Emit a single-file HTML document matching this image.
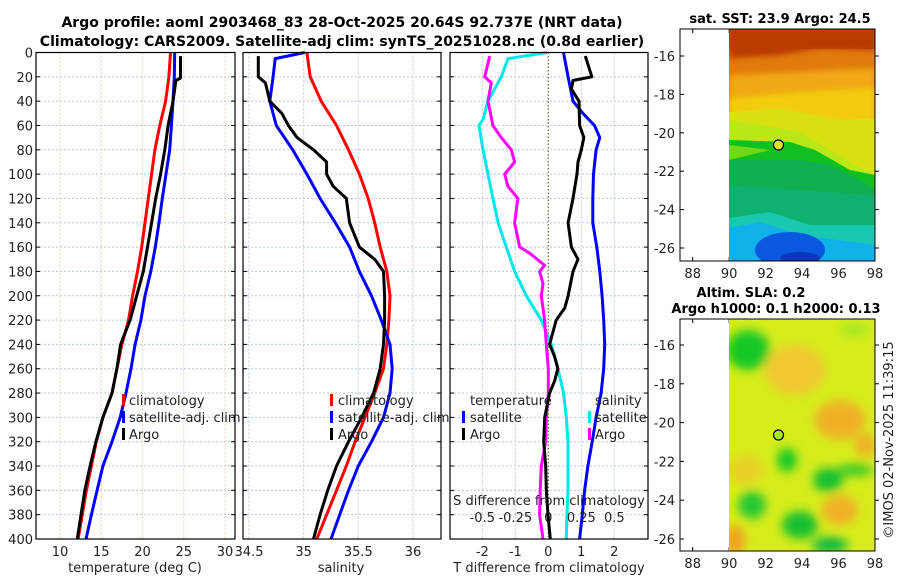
<!DOCTYPE html>
<html><head><meta charset="utf-8"><style>
body{margin:0;background:#fff}
svg{display:block;font-family:"DejaVu Sans","Liberation Sans",sans-serif}
</style></head><body>
<svg id="c" width="900" height="580" viewBox="0 0 900 580" xmlns="http://www.w3.org/2000/svg">
<defs>
<filter id="bl" x="-50%" y="-50%" width="200%" height="200%"><feGaussianBlur stdDeviation="5"/></filter>
<filter id="bl2" x="-50%" y="-50%" width="200%" height="200%"><feGaussianBlur stdDeviation="3"/></filter>
<clipPath id="cm1"><rect x="729" y="29" width="146" height="232"/></clipPath>
<clipPath id="cm2"><rect x="729" y="319" width="146" height="232"/></clipPath>
</defs>
<text x="342" y="27" text-anchor="middle" font-weight="bold" font-size="14">Argo profile: aoml 2903468_83 28-Oct-2025 20.64S 92.737E (NRT data)</text>
<text x="342" y="46" text-anchor="middle" font-weight="bold" font-size="14">Climatology: CARS2009. Satellite-adj clim: synTS_20251028.nc (0.8d earlier)</text>
<g id="g"></g>
<g id="maps">
<g clip-path="url(#cm1)">
<rect x="729" y="29" width="146" height="232" fill="#e07a0c"/>
<rect x="729" y="29" width="146" height="20" fill="#c04a02"/>
<polygon points="729,29 875,29 875,50 820,48 780,55 729,58" fill="#b83a00" filter="url(#bl2)"/>
<polygon points="729,75 875,68 875,120 729,110" fill="#f0a812" filter="url(#bl2)"/>
<polygon points="729,98 800,92 875,88 875,140 729,130" fill="#f2cc10" filter="url(#bl2)"/>
<polygon points="729,112 780,108 840,120 875,118 875,220 729,220" fill="#d8e010"/>
<polygon points="729,120 800,132 830,150 860,168 875,175 875,261 729,261" fill="#b8e818"/>
<polygon points="729,140 790,142 815,150 850,170 875,175 875,261 729,261" fill="#10c020"/>
<polygon points="729,145 770,150 729,160" fill="#70d818"/>
<polygon points="729,160 800,160 830,165 860,180 875,190 875,261 729,261" fill="#10b050"/>
<polygon points="729,185 875,195 875,261 729,261" fill="#10b070"/>
<polygon points="729,218 770,212 810,225 875,225 875,261 729,261" fill="#18c8b0"/>
<polygon points="729,228 760,222 800,235 875,245 875,261 729,261" fill="#10b0e8"/>
<ellipse cx="790" cy="250" rx="35" ry="18" fill="#0a58e0"/>
<ellipse cx="800" cy="258" rx="20" ry="6" fill="#0838b8"/>
</g>
<rect x="680" y="29" width="195" height="232" fill="none" stroke="#000" stroke-width="1"/>
<circle cx="778.5" cy="145" r="5" fill="#d8e818" stroke="#000" stroke-width="1.2"/>
<text x="780" y="23" text-anchor="middle" font-weight="bold" font-size="13">sat. SST: 23.9 Argo: 24.5</text>
<g clip-path="url(#cm2)">
<rect x="729" y="319" width="146" height="232" fill="#d6ec1c"/>
<g filter="url(#bl)">
<ellipse cx="795" cy="370" rx="30" ry="25" fill="#f0c830"/>
<ellipse cx="840" cy="420" rx="25" ry="20" fill="#f0b028"/>
<ellipse cx="865" cy="445" rx="10" ry="12" fill="#f0b028"/>
<ellipse cx="840" cy="510" rx="18" ry="15" fill="#f0b028"/>
<ellipse cx="745" cy="470" rx="18" ry="15" fill="#e8d028"/>
<ellipse cx="735" cy="540" rx="10" ry="15" fill="#f0a020"/>
<ellipse cx="748" cy="350" rx="22" ry="20" fill="#18c828"/>
<ellipse cx="787" cy="460" rx="10" ry="12" fill="#18c828"/>
<ellipse cx="828" cy="480" rx="15" ry="12" fill="#18c030"/>
<ellipse cx="855" cy="470" rx="18" ry="6" fill="#30c828"/>
<ellipse cx="752" cy="505" rx="14" ry="14" fill="#28c830"/>
<ellipse cx="800" cy="525" rx="18" ry="14" fill="#18c030"/>
<ellipse cx="830" cy="545" rx="18" ry="8" fill="#10b840"/>
<ellipse cx="855" cy="330" rx="15" ry="6" fill="#a0e820"/>
</g>
</g>
<rect x="680" y="319" width="195" height="232" fill="none" stroke="#000" stroke-width="1"/>
<circle cx="778.5" cy="435" r="5" fill="#a8e818" stroke="#000" stroke-width="1.2"/>
<text x="751" y="297" text-anchor="middle" font-weight="bold" font-size="13">Altim. SLA: 0.2</text>
<text x="776" y="313" text-anchor="middle" font-weight="bold" font-size="13">Argo h1000: 0.1 h2000: 0.13</text>
<text transform="translate(893,440) rotate(-90)" text-anchor="middle" font-size="13" fill="#222">©IMOS 02-Nov-2025 11:39:15</text>
</g>
</svg>
<script>
const depthsT = [0,20,40,60,80,100,120,140,160,180,200,220,240,260,280,300,320,340,360,380,400];
const tempClim = [23.4,23.2,22.8,22.1,21.5,21.1,20.7,20.3,19.9,19.4,18.8,18.3,17.5,16.9,16.3,15.2,14.4,13.8,13.2,12.7,12.2];
const tempSat = [23.9,23.85,23.7,23.5,23.3,22.85,22.4,22.0,21.55,21.0,20.3,19.8,19.1,18.6,18.0,17.3,16.3,15.2,14.5,13.8,13.15];
const depthsArgoT = [3,21,23,40,60,80,100,120,140,160,180,200,220,240,260,280,300,320,340,360,380,400];
const tempArgo = [24.6,24.6,24.05,23.7,23.1,22.7,22.2,21.6,21.1,20.6,20.1,19.3,18.5,17.35,16.9,16.3,15.2,14.35,13.65,13.0,12.55,12.1];
const depthsSClim = [0,20,40,60,80,100,120,140,160,180,200,220,240,260,280,300,320,340,360,380,400];
const salClim = [35.03,35.06,35.16,35.30,35.41,35.51,35.59,35.65,35.70,35.76,35.79,35.78,35.76,35.73,35.65,35.56,35.47,35.39,35.30,35.21,35.12];
const depthsSSat = [0,5,20,40,60,80,100,120,140,160,180,200,220,240,260,280,300,320,340,360,380,400];
const salSat = [35.01,34.74,34.72,34.69,34.75,34.90,35.03,35.15,35.29,35.42,35.51,35.62,35.71,35.79,35.81,35.79,35.73,35.62,35.50,35.41,35.33,35.25];
const depthsSArgo = [3,20,25,40,50,60,70,80,90,100,110,120,140,160,170,180,200,220,240,260,280,300,320,340,360,380,400];
const salArgo = [34.585,34.585,34.65,34.69,34.80,34.86,34.94,35.09,35.21,35.21,35.27,35.39,35.42,35.51,35.65,35.73,35.74,35.74,35.73,35.70,35.64,35.53,35.41,35.30,35.22,35.15,35.09];
const depthsDT = [0,20,40,50,60,70,80,100,120,140,160,180,200,220,240,260,280,300,320,340,360,380,400];
const dTSat = [0.46,0.6,0.75,1.05,1.4,1.56,1.45,1.37,1.35,1.35,1.47,1.56,1.63,1.68,1.71,1.68,1.6,1.45,1.33,1.2,1.1,1.03,0.95];
const depthsDTArgo = [3,20,23,30,40,60,70,80,90,100,120,140,160,170,180,200,210,220,240,250,260,270,280,300,320,340,360,380,400];
const dTArgo = [1.12,1.32,0.75,0.7,0.93,0.95,1.08,1.0,0.9,0.87,0.75,0.6,0.7,0.9,0.75,0.6,0.5,0.24,0.04,0.19,0.29,0.19,0.04,-0.11,-0.14,-0.08,-0.06,-0.01,0.06];
const depthsDS = [0,5,20,40,55,60,80,100,120,140,160,180,200,220,240,260,280,300,320,340,360,380,400];
const dSSat = [-0.01,-0.305,-0.356,-0.457,-0.495,-0.525,-0.495,-0.457,-0.42,-0.38,-0.318,-0.255,-0.167,-0.053,0.023,0.073,0.116,0.136,0.149,0.149,0.149,0.141,0.136];
const depthsDSArgo = [3,20,25,40,60,70,80,90,100,110,120,140,160,165,175,180,190,200,220,240,260,280,300,320,340,360,380,400];
const dSArgo = [-0.444,-0.482,-0.432,-0.457,-0.42,-0.356,-0.28,-0.255,-0.33,-0.306,-0.23,-0.255,-0.217,-0.141,-0.028,-0.066,-0.04,-0.053,-0.028,-0.015,0,0,-0.015,-0.02,-0.053,-0.061,-0.066,-0.04];
const depthTicks = [0,20,40,60,80,100,120,140,160,180,200,220,240,260,280,300,320,340,360,380,400];
const tempTicks = [10,15,20,25,30];
const salTicks = [34.5,35,35.5,36];
const dTTicks = [-2,-1,0,1,2];
const dSTickVals = [-0.5,-0.25,0,0.25,0.5];
const dSTickLabels = ["-0.5","-0.25","0","0.25","0.5"];
const lonTicks = [88,90,92,94,96,98];
const latTicks = [-16,-18,-20,-22,-24,-26];

const NS="http://www.w3.org/2000/svg";
const G=document.getElementById('g');
function mk(tag,attrs,parent){const e=document.createElementNS(NS,tag);for(const k in attrs)e.setAttribute(k,attrs[k]);(parent||G).appendChild(e);return e;}
const Y0=52.5,Y1=539;
const yD=d=>Y0+(Y1-Y0)*d/400;
function lin(d0,d1,r0,r1){return v=>r0+(v-d0)*(r1-r0)/(d1-d0);}
const P1={x0:36,x1:235}, P2={x0:243,x1:441}, P3={x0:450,x1:648};
const xT=lin(10,30,60,225);
const xS=lin(34.5,36,249,413);
const xDT=lin(-2,2,482.3,614.3);
const xDS=lin(-0.5,0.5,482.3,614.3);

function gridH(p){
  for(const d of depthTicks){
    const l=mk('line',{x1:p.x0,x2:p.x1,y1:yD(d),y2:yD(d),stroke:'#b8c4e8','stroke-width':1,'stroke-dasharray':'2,2'});
    
    
    mk('line',{x1:p.x0,x2:p.x0+4,y1:yD(d),y2:yD(d),stroke:'#000'});
    mk('line',{x1:p.x1-4,x2:p.x1,y1:yD(d),y2:yD(d),stroke:'#000'});
  }
}
function gridV(p,ticks,fx,col){
  for(const t of ticks){
    const l=mk('line',{x1:fx(t),x2:fx(t),y1:Y0,y2:Y1,stroke:col,'stroke-width':1,'stroke-dasharray':'2,2'});
    
    
  }
}
function frame(p,name){
  const r=mk('rect',{x:p.x0,y:Y0,width:p.x1-p.x0,height:Y1-Y0,fill:'none',stroke:'#000','stroke-width':1.2});
  
  
}
function line(ds,vs,fx,col,name,w){
  const pts=ds.map((d,i)=>fx(vs[i]).toFixed(1)+','+yD(d).toFixed(1)).join(' ');
  const l=mk('polyline',{points:pts,fill:'none',stroke:col,'stroke-width':w||3,'stroke-linejoin':'round'});
  
  
}
function txt(x,y,s,anchor,size,name,extra){
  const t=mk('text',Object.assign({x:x,y:y,'text-anchor':anchor||'middle','font-size':size||13,fill:'#222'},extra||{}));
  t.textContent=s;
  
  
  return t;
}
function legendMark(x,y,col){mk('rect',{x:x,y:y-10,width:3,height:12,fill:col});}

gridV(P1,tempTicks,xT,'#f0c8a8');gridH(P1);
line(depthsT,tempClim,xT,'#ff0000','temp-climatology-line');
line(depthsT,tempSat,xT,'#0000ff','temp-satellite-line');
line(depthsArgoT,tempArgo,xT,'#000','temp-argo-line');
frame(P1,'temperature-plot-frame');
for(const d of depthTicks) txt(33,yD(d)+5,String(d),'end',13,'depth-tick-label');
for(const t of tempTicks) txt(xT(t),556,String(t),'middle',13,'temp-tick-label');
txt(135,572,'temperature (deg C)','middle',13,'x-axis-title-temperature');
legendMark(122,404,'#ff0000');txt(129,405,'climatology','start',13,'legend-climatology');
legendMark(122,421,'#0000ff');txt(129,422,'satellite-adj. clim','start',13,'legend-satellite');
legendMark(122,438,'#000');txt(129,439,'Argo','start',13,'legend-argo');

gridV(P2,salTicks,xS,'#b8c4e8');gridH(P2);
line(depthsSClim,salClim,xS,'#ff0000','sal-climatology-line');
line(depthsSSat,salSat,xS,'#0000ff','sal-satellite-line');
line(depthsSArgo,salArgo,xS,'#000','sal-argo-line');
frame(P2,'salinity-plot-frame');
for(const t of salTicks) txt(xS(t),556,String(t),'middle',13,'sal-tick-label');
txt(341,572,'salinity','middle',13,'x-axis-title-salinity');
legendMark(330,404,'#ff0000');txt(338,405,'climatology','start',13,'legend-climatology');
legendMark(330,421,'#0000ff');txt(338,422,'satellite-adj. clim','start',13,'legend-satellite');
legendMark(330,438,'#000');txt(338,439,'Argo','start',13,'legend-argo');

gridV(P3,dTTicks.filter(t=>t!==0),xDT,'#b8c4e8');gridH(P3);
{const z=mk('line',{x1:xDT(0),x2:xDT(0),y1:Y0,y2:Y1,stroke:'#556b2f','stroke-dasharray':'1.5,2','stroke-width':1.2});
}
line(depthsDS,dSSat,xDS,'#00e8e8','sdiff-satellite-line');
line(depthsDSArgo,dSArgo,xDS,'#ff00ff','sdiff-argo-line');
line(depthsDT,dTSat,xDT,'#0000ff','tdiff-satellite-line');
line(depthsDTArgo,dTArgo,xDT,'#000','tdiff-argo-line');
frame(P3,'difference-plot-frame');
for(const t of dTTicks) txt(xDT(t),556,String(t),'middle',13,'tdiff-tick-label');
txt(549,572,'T difference from climatology','middle',13,'x-axis-title-tdiff');
txt(549,505,'S difference from climatology','middle',13,'s-axis-title');
dSTickVals.forEach((v,i)=>txt(xDS(v),522,dSTickLabels[i],'middle',13,'sdiff-tick-label'));
txt(470,405,'temperature','start',13,'legend-temperature-heading');
legendMark(462,421,'#0000ff');txt(470,422,'satellite','start',13,'legend-t-satellite');
legendMark(462,438,'#000');txt(470,439,'Argo','start',13,'legend-t-argo');
txt(595,405,'salinity','start',13,'legend-salinity-heading');
legendMark(588,421,'#00e8e8');txt(595,422,'satellite','start',13,'legend-s-satellite');
legendMark(588,438,'#ff00ff');txt(595,439,'Argo','start',13,'legend-s-argo');

const xLon=lin(88,98,692.7,875);
function mapAxes(top,bot,latY,nm){
  for(const l of lonTicks){
    const x=xLon(l);
    mk('line',{x1:x,x2:x,y1:bot,y2:bot-4,stroke:'#000'});
    mk('line',{x1:x,x2:x,y1:top,y2:top+4,stroke:'#000'});
    txt(x,bot+17,String(l),'middle',13,nm+'-lon-label');
  }
  for(const la of latTicks){
    const y=latY(la);
    mk('line',{x1:680,x2:684,y1:y,y2:y,stroke:'#000'});
    mk('line',{x1:875,x2:879,y1:y,y2:y,stroke:'#000'});
    txt(675,y+5,String(la),'end',13,nm+'-lat-label');
  }
}
mapAxes(29,261,lin(-16,-26,56,248),'sst-map');
mapAxes(319,551,lin(-16,-26,345,539),'sla-map');
document.getElementById('c').appendChild(document.getElementById('maps'));
</script>
</body></html>
